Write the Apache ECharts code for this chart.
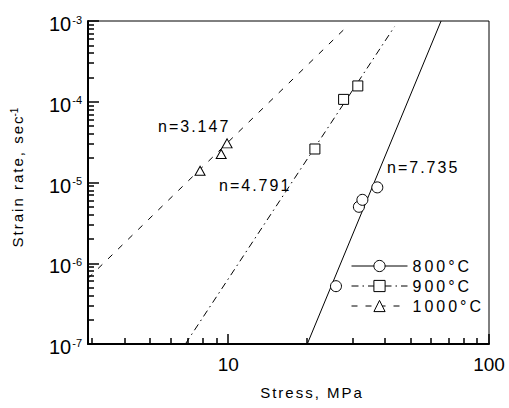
<!DOCTYPE html>
<html><head><meta charset="utf-8">
<script src="https://cdn.jsdelivr.net/npm/echarts@6/dist/echarts.min.js"></script>
<style>
html,body{margin:0;padding:0;background:#fff;}
#c{width:509px;height:408px;}
#c text[style*="Arimo"], #c text[font-family*="Arimo"]{letter-spacing:2px;}
#c text[style*="sans-serif"], #c text[font-family*="sans-serif"]{letter-spacing:3px;}
</style></head><body><div id="c"></div>
<script>
// ---- data (stress in MPa, strain rate in 1/s) ----
const seriesNames = ['800°C', '900°C', '1000°C'];
const stress800 = [25.9, 31.7, 32.7, 37.3];
const rate800 = [5.2e-7, 5.0e-6, 6.1e-6, 8.7e-6];
const stress900 = [21.5, 27.7, 31.4];
const rate900 = [2.6e-5, 1.07e-4, 1.57e-4];
const stress1000 = [7.8, 9.4, 9.9];
const rate1000 = [1.4e-5, 2.25e-5, 3.05e-5];
const fitStress800 = [20.1, 65.5];
const fitRate800 = [1e-7, 1e-3];
const fitStress900 = [6.85, 43.4];
const fitRate900 = [1e-7, 8.5e-4];
const fitStress1000 = [2.9, 28.5];
const fitRate1000 = [6.5e-7, 8.5e-4];
const exponentLabels = ['n=3.147', 'n=4.791', 'n=7.735'];
const xRange = [2.9, 100];
const yRange = [1e-7, 1e-3];
const xMajorTicks = [10, 100];
const xMinorTicks = [3, 4, 5, 6, 7, 8, 9, 20, 30, 40, 50, 60, 70, 80, 90];
const yMajorTicks = [1e-7, 1e-6, 1e-5, 1e-4, 1e-3];
const yMinorMantissas = [2, 3, 4, 5, 6, 7, 8, 9];
const yMinorDecades = [1e-7, 1e-6, 1e-5, 1e-4];
const xTitle = 'Stress, MPa';
const yTitle = 'Strain rate, sec';
const yTitleSup = '-1';

// ---- build ----
const L = Math.log10;
const pairs = (xs, ys) => xs.map((x, i) => [L(x), L(ys[i])]);
const yMinorTicks = [];
yMinorDecades.forEach(d => yMinorMantissas.forEach(m => yMinorTicks.push(m * d)));

const tickFont = 'Liberation Sans';
const spacedFont = '"Liberation Sans", Arimo';
const legendFont = '"Liberation Sans", sans-serif';
const black = '#000';

function fitSeries(name, xs, ys, symbol, size, type) {
  return {
    name, type: 'line', xAxisIndex: 0, yAxisIndex: 0,
    data: pairs(xs, ys), showSymbol: false, symbol, symbolSize: size,
    silent: true, z: 2,
    itemStyle: { color: '#fff', borderColor: black, borderWidth: 1 },
    lineStyle: { color: black, width: 1, type }
  };
}
function pointSeries(name, xs, ys, symbol, size) {
  return {
    name, type: 'scatter', xAxisIndex: 0, yAxisIndex: 0,
    data: pairs(xs, ys), symbol, symbolSize: size, silent: true, z: 3,
    itemStyle: { color: '#fff', borderColor: black, borderWidth: 1, opacity: 1 }
  };
}

const chart = echarts.init(document.getElementById('c'), null, { renderer: 'svg' });
chart.setOption({
  animation: false,
  backgroundColor: '#fff',
  grid: { left: 88, right: 20, top: 21, bottom: 64, show: true, borderColor: black, borderWidth: 1,
          containLabel: false, outerBoundsMode: 'none' },
  legend: {
    data: seriesNames, orient: 'vertical', left: 351, top: 258,
    itemWidth: 56, itemHeight: 14, itemGap: 4, padding: 0,
    selectedMode: false,
    itemStyle: { borderWidth: 1 },
    lineStyle: { width: 1 },
    textStyle: { color: black, fontSize: 16, fontFamily: legendFont, lineHeight: 14 }
  },
  xAxis: [
    {
      type: 'value', min: L(xRange[0]), max: L(xRange[1]), position: 'bottom',
      axisLine: { show: true, onZero: false, lineStyle: { color: black, width: 2 } },
      axisTick: { show: true, inside: true, length: 10, customValues: xMajorTicks.map(L),
                  lineStyle: { color: black, width: 1.5 } },
      axisLabel: { customValues: xMajorTicks.map(L), color: black, fontSize: 19, fontFamily: tickFont,
                   margin: 11, formatter: v => String(Math.round(Math.pow(10, v))) },
      splitLine: { show: false },
      name: xTitle, nameLocation: 'middle', nameGap: 41, nameMoveOverlap: false,
      nameTextStyle: { color: black, fontSize: 15, fontFamily: spacedFont, padding: [0, 0, 0, 47] }
    },
    {
      type: 'value', min: L(xRange[0]), max: L(xRange[1]), position: 'bottom',
      axisLine: { show: false },
      axisTick: { show: true, inside: true, length: 6, customValues: xMinorTicks.map(L),
                  lineStyle: { color: black, width: 1.5 } },
      axisLabel: { show: false }, splitLine: { show: false }
    }
  ],
  yAxis: [
    {
      type: 'value', min: L(yRange[0]), max: L(yRange[1]), position: 'left',
      axisLine: { show: true, onZero: false, lineStyle: { color: black, width: 2 } },
      axisTick: { show: true, inside: true, length: 11, customValues: yMajorTicks.map(L),
                  lineStyle: { color: black, width: 1.5 } },
      axisLabel: {
        customValues: yMajorTicks.map(L), margin: 6, color: black,
        formatter: v => '{b|10}{s|' + Math.round(v) + '}',
        rich: {
          b: { fontSize: 20, fontFamily: tickFont, color: black, lineHeight: 20, padding: [6, 0, 0, 0] },
          s: { fontSize: 11, fontFamily: tickFont, color: black, lineHeight: 11, verticalAlign: 'top',
               padding: [3, 0, 0, 1] }
        }
      },
      splitLine: { show: false },
      name: '{a|' + yTitle + '}{s|' + yTitleSup + '}', nameLocation: 'middle', nameRotate: 90,
      nameGap: 62, nameMoveOverlap: false,
      nameTextStyle: {
        color: black, fontSize: 15, fontFamily: spacedFont, padding: [0, 0, 0, 26],
        rich: {
          a: { fontSize: 15, fontFamily: spacedFont, color: black, lineHeight: 17 },
          s: { fontSize: 10, fontFamily: tickFont, color: black, lineHeight: 10, verticalAlign: 'top',
               padding: [0, 0, 0, 14] }
        }
      }
    },
    {
      type: 'value', min: L(yRange[0]), max: L(yRange[1]), position: 'left',
      axisLine: { show: false },
      axisTick: { show: true, inside: true, length: 6, customValues: yMinorTicks.map(L),
                  lineStyle: { color: black, width: 1.5 } },
      axisLabel: { show: false }, splitLine: { show: false }
    }
  ],
  graphic: [
    { type: 'text', left: 158, top: 118, silent: true,
      style: { text: exponentLabels[0], font: '16px ' + spacedFont, fill: black } },
    { type: 'text', left: 219, top: 177, silent: true,
      style: { text: exponentLabels[1], font: '16px ' + spacedFont, fill: black } },
    { type: 'text', left: 387, top: 159, silent: true,
      style: { text: exponentLabels[2], font: '16px ' + spacedFont, fill: black } }
  ],
  series: [
    fitSeries(seriesNames[0], fitStress800, fitRate800, 'circle', 11, 'solid'),
    fitSeries(seriesNames[1], fitStress900, fitRate900, 'rect', 10, [7, 4, 1.5, 4]),
    fitSeries(seriesNames[2], fitStress1000, fitRate1000, 'triangle', [10, 9], [6, 8]),
    pointSeries(seriesNames[0], stress800, rate800, 'circle', 11),
    pointSeries(seriesNames[1], stress900, rate900, 'rect', 10),
    pointSeries(seriesNames[2], stress1000, rate1000, 'triangle', [10, 9])
  ]
});
</script></body></html>
